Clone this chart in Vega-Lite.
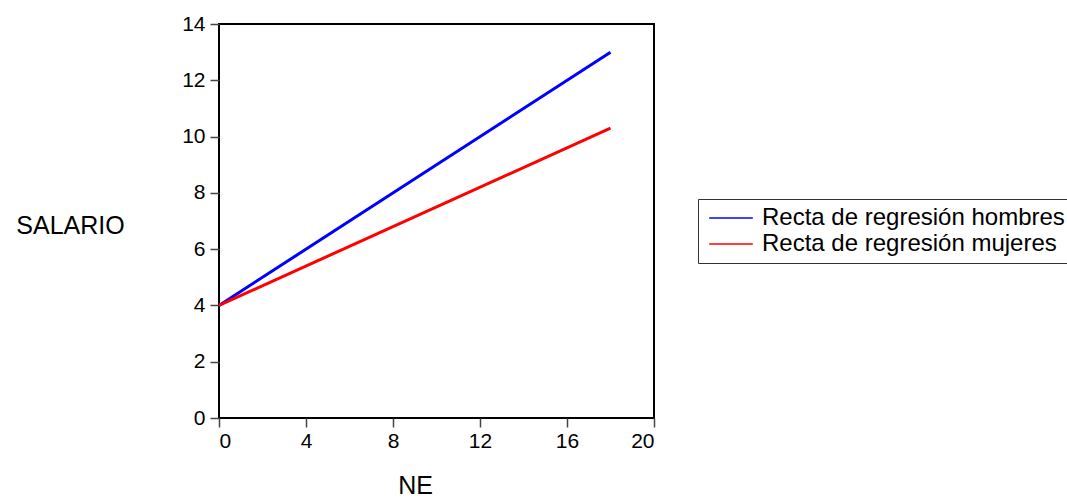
{
  "$schema": "https://vega.github.io/schema/vega-lite/v6.json",
  "width": 435,
  "height": 394,
  "autosize": {"type": "none"},
  "padding": {"left": 219, "top": 24, "right": 413, "bottom": 82},
  "background": "white",
  "config": {
    "font": "Liberation Sans",
    "view": {"stroke": "black", "strokeWidth": 2},
    "axis": {
      "grid": false,
      "domain": false,
      "tickColor": "#444",
      "tickSize": 9,
      "tickWidth": 1.5,
      "labelFont": "Liberation Sans",
      "labelFontSize": 21,
      "labelColor": "black",
      "titleFont": "Liberation Sans",
      "titleFontSize": 25,
      "titleFontWeight": "normal",
      "titleColor": "black"
    }
  },
  "data": {
    "values": [
      {"NE": 0, "SALARIO": 4, "serie": "Recta de regresión hombres"},
      {"NE": 18, "SALARIO": 13, "serie": "Recta de regresión hombres"},
      {"NE": 0, "SALARIO": 4, "serie": "Recta de regresión mujeres"},
      {"NE": 18, "SALARIO": 10.3, "serie": "Recta de regresión mujeres"}
    ]
  },
  "mark": {"type": "line", "strokeWidth": 3},
  "encoding": {
    "x": {
      "field": "NE",
      "type": "quantitative",
      "scale": {"domain": [0, 20], "nice": false, "zero": false},
      "axis": {
        "values": [0, 4, 8, 12, 16, 20],
        "labelPadding": 3,
        "title": "NE",
        "titleX": 196,
        "titleY": 67,
        "titleAlign": "center",
        "titleBaseline": "middle"
      }
    },
    "y": {
      "field": "SALARIO",
      "type": "quantitative",
      "scale": {"domain": [0, 14], "nice": false},
      "axis": {
        "values": [0, 2, 4, 6, 8, 10, 12, 14],
        "labelPadding": 5,
        "title": "SALARIO",
        "titleAngle": 0,
        "titleX": -149,
        "titleY": 201,
        "titleAlign": "center",
        "titleBaseline": "middle"
      }
    },
    "color": {
      "field": "serie",
      "type": "nominal",
      "scale": {
        "domain": ["Recta de regresión hombres", "Recta de regresión mujeres"],
        "range": ["#0000FF", "#FF0000"]
      },
      "legend": {
        "title": null,
        "orient": "none",
        "legendX": 479,
        "legendY": 175,
        "padding": 6,
        "strokeColor": "#333",
        "symbolType": "stroke",
        "symbolSize": 1900,
        "symbolOffset": 4,
        "symbolStrokeWidth": 1.5,
        "clipHeight": 26,
        "labelOffset": 8,
        "labelFont": "Liberation Sans",
        "labelFontSize": 24,
        "labelColor": "black",
        "labelLimit": 400,
        "rowPadding": 0
      }
    }
  }
}
